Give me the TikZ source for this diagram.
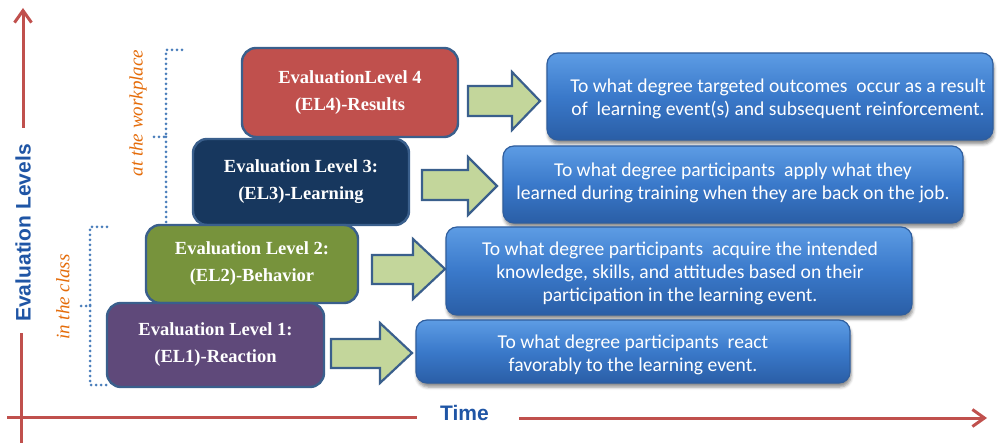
\documentclass[tikz,border=0pt]{standalone}
\usepackage{fontspec}
\setmainfont{Liberation Serif}
\newfontfamily\calfont{Carlito}
\newfontfamily\arialfont{Liberation Sans}
\usetikzlibrary{arrows.meta,shadows.blur}
\definecolor{axisred}{HTML}{C0504D}
\definecolor{axisblue}{HTML}{1F55A5}
\definecolor{lvlborder}{HTML}{3A5F8C}
\definecolor{lvlfour}{HTML}{C0504D}
\definecolor{lvlthree}{HTML}{17375E}
\definecolor{lvltwo}{HTML}{77933C}
\definecolor{lvlone}{HTML}{5F497A}
\definecolor{arrowgreen}{HTML}{C3D69B}
\definecolor{dotblue}{HTML}{4A7EBB}
\definecolor{sideorange}{HTML}{E46C0A}
\definecolor{descborder}{HTML}{2F5E9E}
\definecolor{desctop}{HTML}{5D9CE4}
\definecolor{descmid}{HTML}{3A79CA}
\definecolor{descbot}{HTML}{2A5EA6}
\tikzset{
  lvl/.style={draw=lvlborder, line width=2.4pt, rounded corners=14pt, text=white,
    font=\bfseries\fontsize{18.5}{27}\selectfont, align=center, inner sep=0pt},
  desc/.style={draw=descborder, line width=1.2pt, rounded corners=11pt,
    top color=desctop, bottom color=descbot, middle color=descmid,
    blur shadow={shadow xshift=1pt, shadow yshift=-4pt, shadow blur radius=3pt, shadow opacity=45},
    inner sep=0pt},
  desctext/.style={text=white, font=\calfont\fontsize{19.6}{23}\selectfont, align=center, inner sep=0pt},
  garrow/.style={draw=lvlborder, fill=arrowgreen, line width=2.2pt, line join=miter},
  bracket/.style={draw=dotblue, line width=3pt, line cap=round, dash pattern=on 0pt off 5pt},
  axis/.style={draw=axisred, line width=3pt},
  axtip/.style={-{Straight Barb[length=12pt,width=17pt]}},
  axlabel/.style={text=axisblue, font=\arialfont\bfseries\fontsize{21}{24}\selectfont, inner sep=0pt},
  side/.style={text=sideorange, font=\itshape\fontsize{19}{22}\selectfont, inner sep=0pt},
}
\begin{document}
\begin{tikzpicture}[x=1pt,y=1pt]
\useasboundingbox (0,0) rectangle (998,-443);

% dotted brackets
\draw[bracket] (182,-50) -| (166,-137) -- (154,-137);
\draw[bracket] (166,-137) |- (180,-226);
\draw[bracket] (107,-227) -| (90,-306) -- (78,-306);
\draw[bracket] (90,-306) |- (107,-385);
\node[side, rotate=90] (work) at (138,-113) {at the workplace};
\node[side, rotate=90] (class) at (63,-297) {in the class};

% level boxes
\node[lvl, fill=lvlfour, minimum width=216pt, minimum height=89pt] (el4) at (350,-92.5)
  {EvaluationLevel 4\\(EL4)-Results};
\node[lvl, fill=lvlthree, minimum width=216pt, minimum height=86pt] (el3) at (301,-182)
  {Evaluation Level 3:\\(EL3)-Learning};
\node[lvl, fill=lvltwo, minimum width=212pt, minimum height=78pt] (el2) at (252,-264)
  {Evaluation Level 2:\\(EL2)-Behavior};
\node[lvl, fill=lvlone, minimum width=217pt, minimum height=84pt] (el1) at (215.5,-345)
  {Evaluation Level 1:\\(EL1)-Reaction};

% block arrows
\draw[garrow] (468,-86) -- (512,-86) -- (512,-72) -- (540,-101) -- (512,-130) -- (512,-116) -- (468,-116) -- cycle;
\draw[garrow] (422,-170) -- (468,-170) -- (468,-157) -- (497,-186) -- (468,-215) -- (468,-200) -- (422,-200) -- cycle;
\draw[garrow] (372,-255) -- (413,-255) -- (413,-239) -- (445,-269) -- (413,-299) -- (413,-284) -- (372,-284) -- cycle;
\draw[garrow] (331,-339) -- (380,-339) -- (380,-323) -- (412,-353) -- (380,-383) -- (380,-368) -- (331,-368) -- cycle;

% description boxes
\node[desc, minimum width=446pt, minimum height=87pt] (b4) at (770,-96.5) {};
\node[desctext] (b4t) at (778,-98.5)
  {To what degree targeted outcomes~ occur as a result\\of~ learning event(s) and subsequent reinforcement.};
\node[desc, minimum width=460pt, minimum height=77pt] (b3) at (733,-184.5) {};
\node[desctext] (b3t) at (733,-182.5)
  {To what degree participants~ apply what they\\learned during training when they are back on the job.};
\node[desc, minimum width=466pt, minimum height=88pt] (b2) at (679,-271) {};
\node[desctext] (b2t) at (680,-273)
  {To what degree participants~ acquire the intended\\knowledge, skills, and attitudes based on their\\participation in the learning event.};
\node[desc, minimum width=434pt, minimum height=63pt] (b1) at (633,-351.5) {};
\node[desctext] (b1t) at (633,-354.5)
  {To what degree participants~ react\\favorably to the learning event.};

% axes
\node[axlabel, rotate=90] (ylab) at (23,-233) {Evaluation Levels};
\node[axlabel] (xlab) at (464.5,-413) {Time};
\coordinate (ybot) at (21,-443);
\coordinate (ymid) at (21,-333);
\coordinate (yup) at (23,-128);
\coordinate (ytop) at (23,-8);
\coordinate (xleft) at (7,-417);
\coordinate (xmid) at (417,-417);
\coordinate (xstart) at (519,-418);
\coordinate (xend) at (987,-418);
\draw[axis] (ybot) -- (ymid);
\draw[axis, axtip] (yup) -- (ytop);
\draw[axis] (xleft) -- (xmid);
\draw[axis, axtip] (xstart) -- (xend);
\end{tikzpicture}
\end{document}
